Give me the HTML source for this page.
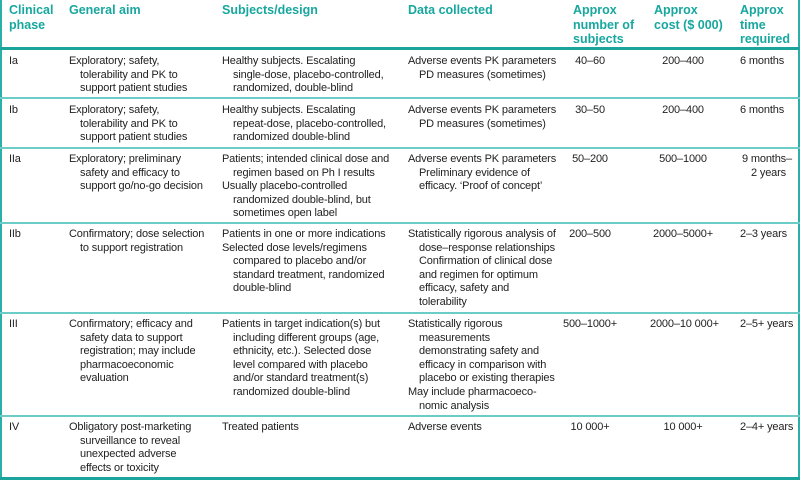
<!DOCTYPE html>
<html><head><style>
body{margin:0;width:800px;height:480px;background:#fff;position:relative;overflow:hidden;font-family:"Liberation Sans",sans-serif;}
.h{position:absolute;top:3px;color:#17a79f;font-weight:bold;font-size:12.5px;line-height:14.6px;}
.c{position:absolute;font-size:11px;line-height:13.6px;color:#222;white-space:nowrap;letter-spacing:-0.15px;}
.i{padding-left:11px;}
.ln{position:absolute;left:0;width:800px;height:2px;background:#6ccdc8;}
.ctr{text-align:center;}
</style></head><body>
<div style="position:absolute;left:0;top:0;width:2px;height:480px;background:#2bb0a9"></div>
<div style="position:absolute;right:0;top:0;width:2px;height:480px;background:#2bb0a9"></div>
<div style="position:absolute;left:0;top:47px;width:800px;height:3px;background:#1ba49c"></div>
<div class="ln" style="top:97px"></div>
<div class="ln" style="top:147px"></div>
<div class="ln" style="top:222px"></div>
<div class="ln" style="top:312px"></div>
<div class="ln" style="top:415px"></div>
<div style="position:absolute;left:0;top:477px;width:800px;height:3px;background:#1ba49c"></div>

<div class="h" style="left:9px">Clinical<br>phase</div>
<div class="h" style="left:69px">General aim</div>
<div class="h" style="left:222px">Subjects/design</div>
<div class="h" style="left:408px">Data collected</div>
<div class="h" style="left:573px">Approx<br>number of<br>subjects</div>
<div class="h" style="left:654px">Approx<br>cost ($ 000)</div>
<div class="h" style="left:740px">Approx<br>time<br>required</div>

<!-- Ia -->
<div class="c" style="left:9px;top:55px">Ia</div>
<div class="c" style="left:69px;top:55px"><div>Exploratory; safety,</div><div class="i">tolerability and PK to</div><div class="i">support patient studies</div></div>
<div class="c" style="left:222px;top:55px"><div>Healthy subjects. Escalating</div><div class="i">single-dose, placebo-controlled,</div><div class="i">randomized, double-blind</div></div>
<div class="c" style="left:408px;top:55px"><div>Adverse events PK parameters</div><div class="i">PD measures (sometimes)</div></div>
<div class="c ctr" style="left:560px;width:60px;top:55px">40–60</div>
<div class="c ctr" style="left:650px;width:66px;top:55px">200–400</div>
<div class="c" style="left:740px;top:55px">6 months</div>

<!-- Ib -->
<div class="c" style="left:9px;top:104px">Ib</div>
<div class="c" style="left:69px;top:104px"><div>Exploratory; safety,</div><div class="i">tolerability and PK to</div><div class="i">support patient studies</div></div>
<div class="c" style="left:222px;top:104px"><div>Healthy subjects. Escalating</div><div class="i">repeat-dose, placebo-controlled,</div><div class="i">randomized double-blind</div></div>
<div class="c" style="left:408px;top:104px"><div>Adverse events PK parameters</div><div class="i">PD measures (sometimes)</div></div>
<div class="c ctr" style="left:560px;width:60px;top:104px">30–50</div>
<div class="c ctr" style="left:650px;width:66px;top:104px">200–400</div>
<div class="c" style="left:740px;top:104px">6 months</div>

<!-- IIa -->
<div class="c" style="left:9px;top:153px">IIa</div>
<div class="c" style="left:69px;top:153px"><div>Exploratory; preliminary</div><div class="i">safety and efficacy to</div><div class="i">support go/no-go decision</div></div>
<div class="c" style="left:222px;top:153px"><div>Patients; intended clinical dose and</div><div class="i">regimen based on Ph I results</div><div>Usually placebo-controlled</div><div class="i">randomized double-blind, but</div><div class="i">sometimes open label</div></div>
<div class="c" style="left:408px;top:153px"><div>Adverse events PK parameters</div><div class="i">Preliminary evidence of</div><div class="i">efficacy. ‘Proof of concept’</div></div>
<div class="c ctr" style="left:560px;width:60px;top:153px">50–200</div>
<div class="c ctr" style="left:650px;width:66px;top:153px">500–1000</div>
<div class="c" style="left:740px;top:153px;text-align:right;width:52px"><div>9 months–</div><div style="padding-right:6px">2 years</div></div>

<!-- IIb -->
<div class="c" style="left:9px;top:228px">IIb</div>
<div class="c" style="left:69px;top:228px"><div>Confirmatory; dose selection</div><div class="i">to support registration</div></div>
<div class="c" style="left:222px;top:228px"><div>Patients in one or more indications</div><div>Selected dose levels/regimens</div><div class="i">compared to placebo and/or</div><div class="i">standard treatment, randomized</div><div class="i">double-blind</div></div>
<div class="c" style="left:408px;top:228px"><div>Statistically rigorous analysis of</div><div class="i">dose–response relationships</div><div class="i">Confirmation of clinical dose</div><div class="i">and regimen for optimum</div><div class="i">efficacy, safety and</div><div class="i">tolerability</div></div>
<div class="c ctr" style="left:560px;width:60px;top:228px">200–500</div>
<div class="c ctr" style="left:650px;width:66px;top:228px">2000–5000+</div>
<div class="c" style="left:740px;top:228px">2–3 years</div>

<!-- III -->
<div class="c" style="left:9px;top:318px">III</div>
<div class="c" style="left:69px;top:318px"><div>Confirmatory; efficacy and</div><div class="i">safety data to support</div><div class="i">registration; may include</div><div class="i">pharmacoeconomic</div><div class="i">evaluation</div></div>
<div class="c" style="left:222px;top:318px"><div>Patients in target indication(s) but</div><div class="i">including different groups (age,</div><div class="i">ethnicity, etc.). Selected dose</div><div class="i">level compared with placebo</div><div class="i">and/or standard treatment(s)</div><div class="i">randomized double-blind</div></div>
<div class="c" style="left:408px;top:318px"><div>Statistically rigorous</div><div class="i">measurements</div><div class="i">demonstrating safety and</div><div class="i">efficacy in comparison with</div><div class="i">placebo or existing therapies</div><div>May include pharmacoeco-</div><div class="i">nomic analysis</div></div>
<div class="c ctr" style="left:560px;width:60px;top:318px">500–1000+</div>
<div class="c ctr" style="left:650px;width:66px;top:318px">2000–10 000+</div>
<div class="c" style="left:740px;top:318px">2–5+ years</div>

<!-- IV -->
<div class="c" style="left:9px;top:421px">IV</div>
<div class="c" style="left:69px;top:421px"><div>Obligatory post-marketing</div><div class="i">surveillance to reveal</div><div class="i">unexpected adverse</div><div class="i">effects or toxicity</div></div>
<div class="c" style="left:222px;top:421px">Treated patients</div>
<div class="c" style="left:408px;top:421px">Adverse events</div>
<div class="c ctr" style="left:560px;width:60px;top:421px">10 000+</div>
<div class="c ctr" style="left:650px;width:66px;top:421px">10 000+</div>
<div class="c" style="left:740px;top:421px">2–4+ years</div>
</body></html>
